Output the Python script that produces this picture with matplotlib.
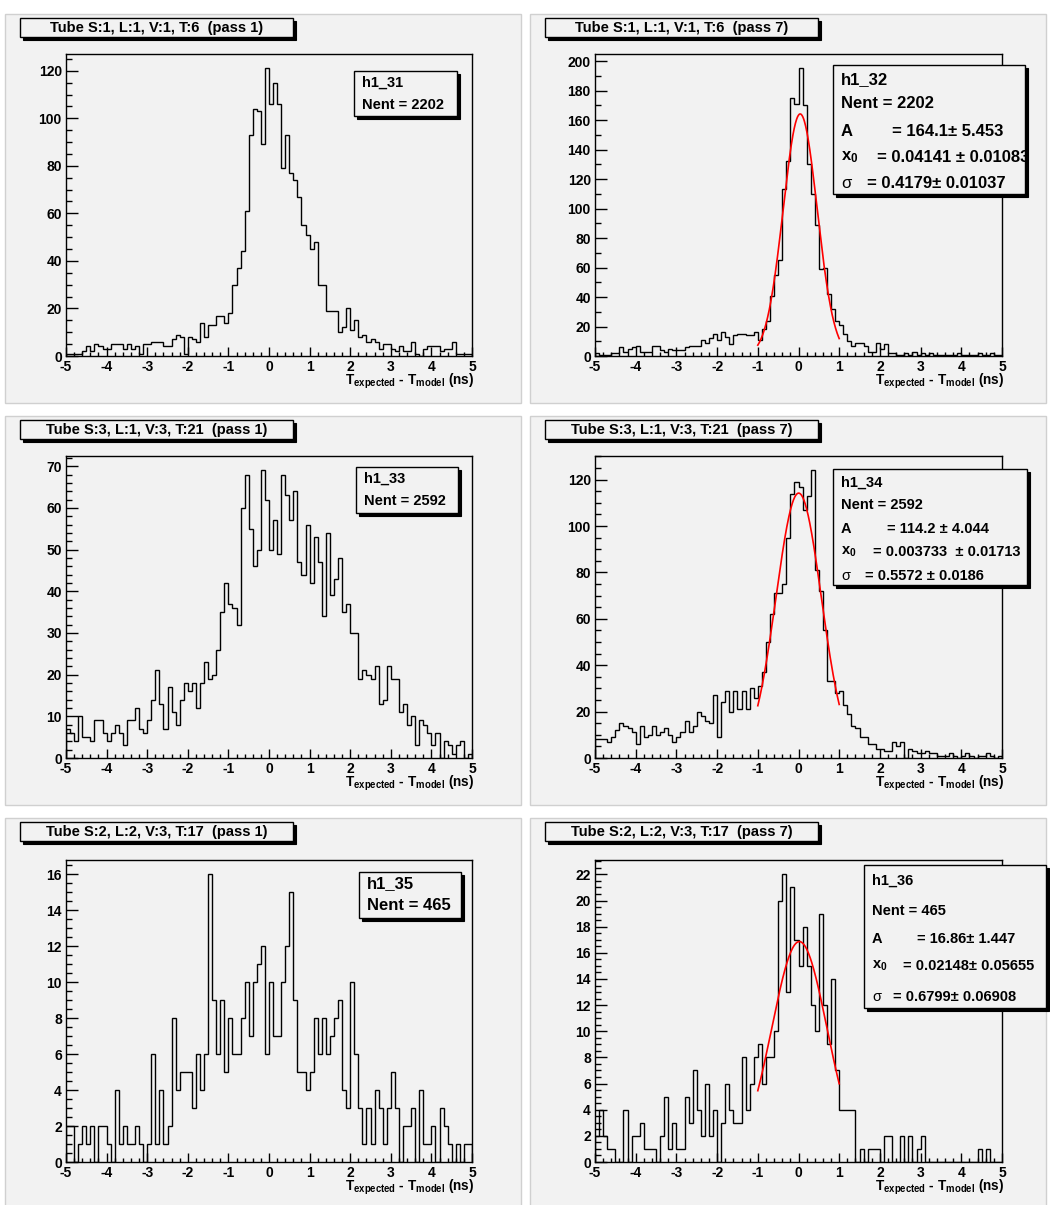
import numpy as np
import matplotlib
matplotlib.use("Agg")
import matplotlib.pyplot as plt
from matplotlib.patches import Rectangle
from matplotlib.ticker import MultipleLocator

plt.rcParams['font.family'] = ['Liberation Sans', 'DejaVu Sans']
plt.rcParams['font.weight'] = 'bold'
plt.rcParams['mathtext.fontset'] = 'custom'
plt.rcParams['mathtext.rm'] = 'Liberation Sans:bold'
plt.rcParams['mathtext.it'] = 'Liberation Sans:bold'
plt.rcParams['mathtext.bf'] = 'Liberation Sans:bold'

W, H = 1050, 1205

## dati (100 bin da -5 a 5 ns)

edges = np.linspace(-5, 5, 101)

h1_31 = [1, 1, 1, 1, 2, 4, 2, 5, 4, 3,
         3, 5, 5, 5, 3, 5, 3, 4, 1, 5,
         5, 6, 6, 6, 4, 4, 7, 9, 8, 1,
         8, 7, 6, 14, 8, 13, 13, 17, 17, 14,
         18, 30, 37, 44, 61, 93, 104, 103, 89, 121,
         106, 115, 106, 79, 93, 77, 74, 67, 55, 51,
         45, 48, 30, 30, 19, 19, 19, 10, 12, 20,
         11, 15, 8, 9, 6, 7, 6, 3, 5, 5,
         3, 2, 4, 2, 2, 6, 1, 0, 3, 4,
         4, 4, 2, 3, 3, 6, 1, 1, 1, 1]

h1_32 = [2, 1, 1, 1, 2, 2, 6, 3, 5, 6,
         7, 3, 3, 3, 7, 7, 4, 3, 5, 4,
         4, 4, 6, 7, 7, 7, 11, 9, 12, 15,
         11, 16, 13, 8, 14, 15, 15, 14, 14, 16,
         11, 18, 24, 41, 55, 65, 113, 132, 175, 171,
         195, 170, 130, 110, 89, 59, 60, 42, 32, 24,
         21, 15, 10, 7, 9, 9, 7, 3, 3, 9,
         5, 8, 2, 2, 1, 1, 2, 1, 3, 1,
         2, 1, 2, 1, 1, 1, 1, 1, 1, 2,
         1, 1, 1, 1, 2, 1, 1, 2, 1, 1]

h1_33 = [7, 6, 4, 10, 5, 5, 4, 9, 9, 6,
         4, 6, 8, 6, 3, 9, 9, 12, 7, 6,
         9, 14, 21, 13, 7, 17, 11, 8, 14, 18,
         16, 18, 12, 18, 23, 19, 20, 26, 35, 42,
         37, 36, 32, 60, 68, 55, 46, 50, 69, 62,
         50, 57, 49, 68, 63, 57, 64, 47, 44, 56,
         42, 53, 47, 34, 54, 39, 43, 48, 35, 37,
         30, 30, 19, 21, 20, 19, 22, 13, 14, 22,
         19, 19, 11, 13, 8, 10, 3, 9, 8, 6,
         3, 6, 0, 4, 3, 1, 3, 4, 0, 1]

h1_34 = [8, 8, 8, 7, 9, 12, 15, 14, 13, 11,
         6, 14, 9, 10, 14, 10, 11, 13, 10, 7,
         9, 11, 16, 11, 14, 20, 18, 16, 15, 27,
         9, 24, 29, 20, 29, 21, 29, 21, 30, 26,
         31, 37, 50, 62, 71, 71, 75, 95, 114, 119,
         117, 107, 113, 124, 81, 72, 55, 33, 33, 28,
         29, 23, 19, 14, 13, 9, 9, 6, 6, 4,
         4, 3, 3, 7, 5, 7, 0, 4, 3, 2,
         2, 3, 2, 2, 1, 1, 1, 2, 1, 0,
         1, 2, 1, 0, 1, 1, 2, 1, 0, 1]

h1_35 = [2, 2, 0, 1, 2, 1, 2, 0, 2, 2,
         1, 0, 4, 1, 2, 1, 1, 2, 1, 0,
         1, 6, 1, 4, 1, 2, 8, 4, 5, 5,
         5, 3, 6, 4, 6, 16, 9, 6, 9, 5,
         8, 6, 6, 8, 10, 7, 10, 11, 12, 6,
         10, 7, 7, 10, 12, 15, 9, 5, 5, 4,
         5, 8, 6, 8, 6, 7, 8, 9, 4, 3,
         10, 6, 3, 1, 3, 1, 4, 3, 1, 3,
         5, 3, 0, 2, 2, 3, 0, 4, 1, 1,
         2, 0, 3, 2, 1, 0, 1, 0, 1, 1]

h1_36 = [2, 4, 2, 1, 1, 0, 0, 4, 0, 2,
         2, 3, 1, 1, 1, 0, 2, 5, 1, 3,
         1, 1, 5, 3, 7, 4, 2, 6, 2, 4,
         0, 3, 6, 4, 3, 3, 8, 4, 6, 8,
         9, 6, 8, 8, 10, 20, 22, 13, 21, 17,
         15, 18, 15, 12, 10, 19, 12, 9, 14, 7,
         4, 4, 4, 4, 0, 1, 0, 1, 1, 1,
         0, 2, 2, 0, 0, 2, 0, 2, 0, 1,
         2, 0, 0, 0, 0, 0, 0, 0, 0, 0,
         0, 0, 0, 0, 1, 0, 1, 0, 0, 0]

histos = [h1_31, h1_32, h1_33, h1_34, h1_35, h1_36]
nomi = ["h1_31", "h1_32", "h1_33", "h1_34", "h1_35", "h1_36"]
nent = [2202, 2202, 2592, 2592, 465, 465]
titoli = ["Tube S:1, L:1, V:1, T:6  (pass 1)", "Tube S:1, L:1, V:1, T:6  (pass 7)",
          "Tube S:3, L:1, V:3, T:21  (pass 1)", "Tube S:3, L:1, V:3, T:21  (pass 7)",
          "Tube S:2, L:2, V:3, T:17  (pass 1)", "Tube S:2, L:2, V:3, T:17  (pass 7)"]

# fit gaussiani (solo pass 7)
fit_A = {1: 164.1, 3: 114.2, 5: 16.86}
fit_x0 = {1: 0.04141, 3: 0.003733, 5: 0.02148}
fit_sigma = {1: 0.4179, 3: 0.5572, 5: 0.6799}
fit_testo = {1: ["= 164.1\u00b1 5.453", "= 0.04141 \u00b1 0.01083", "= 0.4179\u00b1 0.01037"],
             3: ["= 114.2 \u00b1 4.044", "= 0.003733  \u00b1 0.01713", "= 0.5572 \u00b1 0.0186"],
             5: ["= 16.86\u00b1 1.447", "= 0.02148\u00b1 0.05655", "= 0.6799\u00b1 0.06908"]}

# passi dei tick asse y (major, minor)
ytick_step = [(20, 5), (20, 10), (10, 2), (20, 5), (2, 0.5), (2, 0.5)]

## layout (pixel)

def fx(x):
    return x / W

def fy(y):
    return 1 - y / H

def box(fig, x, y, w, h, sh=3, face='#f2f2f2'):
    fig.patches.append(Rectangle((fx(x + sh), fy(y + h + sh)), w / W, h / H,
                                 transform=fig.transFigure, facecolor='k',
                                 edgecolor='k', lw=0.8, zorder=5))
    fig.patches.append(Rectangle((fx(x), fy(y + h)), w / W, h / H,
                                 transform=fig.transFigure, facecolor=face,
                                 edgecolor='k', lw=1.0, zorder=5))

fig = plt.figure(figsize=(W / 100, H / 100), dpi=100, facecolor='white')

pad_x = [5, 530]
pad_y = [14, 416, 818]
frame_x = [66, 595]
frame_w = [406, 407]
frame_y = [54, 456, 860]
frame_h = 302

# stat box: x, y, w, h, fontsize, y delle righe
stat_box = [(354, 71, 103, 45, 10.5, [83, 105]),
            (833, 65, 192, 129, 12, [80, 104, 132, 157, 183]),
            (356, 467, 102, 46, 10.5, [479, 501]),
            (833, 469, 194, 116, 10.5, [483, 505, 529, 552, 576]),
            (359, 872, 102, 46, 12, [884, 906]),
            (864, 865, 182, 143, 10.5, [881, 911, 939, 966, 997])]
fit_val_x = {1: [892, 877, 867], 3: [887, 873, 865], 5: [917, 903, 893]}

for i, h in enumerate(histos):
    col = i % 2
    row = i // 2

    # pad
    fig.patches.append(Rectangle((fx(pad_x[col]), fy(pad_y[row] + 389)), 516 / W, 389 / H,
                                 transform=fig.transFigure, facecolor='#f2f2f2',
                                 edgecolor='#d0d0d0', lw=1, zorder=-2))

    ax = fig.add_axes([fx(frame_x[col]), fy(frame_y[row] + frame_h),
                       frame_w[col] / W, frame_h / H])
    ax.set_facecolor('#f2f2f2')
    ax.stairs(h, edges, color='k', lw=1.0)

    if col == 1:
        xx = np.linspace(-1, 1, 200)
        yy = fit_A[i] * np.exp(-0.5 * ((xx - fit_x0[i]) / fit_sigma[i]) ** 2)
        ax.plot(xx, yy, color='red', lw=1.2)

    ax.set_xlim(-5, 5)
    ax.set_ylim(0, max(h) * 1.05)
    ax.xaxis.set_major_locator(MultipleLocator(1))
    ax.xaxis.set_minor_locator(MultipleLocator(0.2))
    ax.yaxis.set_major_locator(MultipleLocator(ytick_step[i][0]))
    ax.yaxis.set_minor_locator(MultipleLocator(ytick_step[i][1]))
    ax.tick_params(axis='x', which='major', direction='in', length=6.5, width=1,
                   labelsize=10, pad=3)
    ax.tick_params(axis='x', which='minor', direction='in', length=3.2, width=1)
    ax.tick_params(axis='y', which='major', direction='in', length=8.5, width=1,
                   labelsize=10, pad=3)
    ax.tick_params(axis='y', which='minor', direction='in', length=4.5, width=1)
    for lab in ax.get_xticklabels() + ax.get_yticklabels():
        lab.set_fontweight('bold')
    ax.xaxis.set_major_formatter(plt.FuncFormatter(lambda v, p: "%g" % v))
    ax.yaxis.set_major_formatter(plt.FuncFormatter(lambda v, p: "%g" % v))
    for s in ax.spines.values():
        s.set_linewidth(1.0)

    # titolo
    tx = [20, 545][col]
    ty = pad_y[row] + 4
    box(fig, tx, ty, 273, 19)
    fig.text(fx(tx + 136.5), fy(ty + 10), titoli[i], ha='center', va='center',
             fontsize=10.5, fontweight='bold', zorder=6)

    # etichetta asse x
    fig.text(fx(frame_x[col] + frame_w[col] + 2), fy(frame_y[row] + frame_h + 29),
             r'$\mathbf{T_{expected}}$ - $\mathbf{T_{model}}$ (ns)',
             ha='right', va='baseline', fontsize=9.8, fontweight='bold', zorder=6)

    # stat box
    bx, by, bw, bh, fs, ly = stat_box[i]
    box(fig, bx, by, bw, bh)
    fig.text(fx(bx + 8), fy(ly[0]), nomi[i], ha='left', va='center',
             fontsize=fs, fontweight='bold', zorder=6)
    fig.text(fx(bx + 8), fy(ly[1]), "Nent = %d" % nent[i], ha='left', va='center',
             fontsize=fs, fontweight='bold', zorder=6)
    if col == 1:
        etichette = ["A", r'$\mathbf{x_0}$', "\u03c3"]
        for k in range(3):
            fig.text(fx(bx + 8), fy(ly[2 + k]), etichette[k], ha='left', va='center',
                     fontsize=fs, fontweight='normal' if k == 2 else 'bold', zorder=6)
            fig.text(fx(fit_val_x[i][k]), fy(ly[2 + k]), fit_testo[i][k], ha='left',
                     va='center', fontsize=fs, fontweight='bold', zorder=6)

fig.savefig("out.png", dpi=100, facecolor='white')
